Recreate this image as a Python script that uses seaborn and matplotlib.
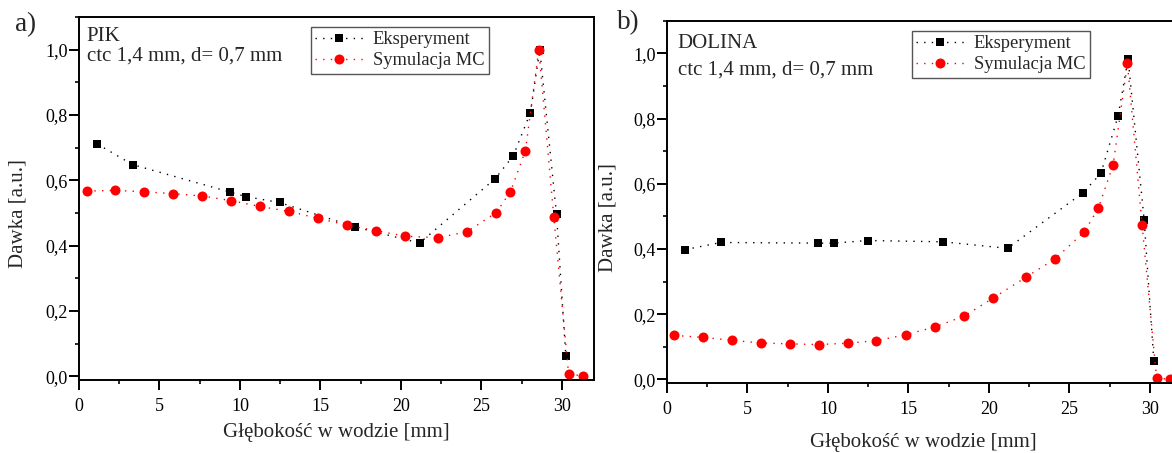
import matplotlib
matplotlib.use("Agg")
import matplotlib.pyplot as plt
from matplotlib.ticker import FuncFormatter, MultipleLocator
import pandas as pd
import seaborn as sns

# --- PIK profile -----------------------------------------------------------
pik_exp_x = [1.14, 3.33, 9.38, 10.37, 12.46, 17.16, 21.16, 25.86, 26.98, 28.05, 28.63, 29.67, 30.25]
pik_exp_y = [0.711, 0.648, 0.564, 0.550, 0.532, 0.457, 0.408, 0.605, 0.675, 0.807, 1.000, 0.496, 0.062]
pik_mc_x = [0.48, 2.26, 4.04, 5.86, 7.64, 9.42, 11.22, 13.02, 14.82, 16.63, 18.43, 20.25,
            22.32, 24.12, 25.92, 26.81, 27.74, 28.57, 29.50, 30.42, 31.32]
pik_mc_y = [0.567, 0.569, 0.565, 0.559, 0.552, 0.538, 0.520, 0.505, 0.484, 0.463, 0.446, 0.429,
            0.424, 0.443, 0.501, 0.565, 0.691, 1.000, 0.489, 0.008, 0.000]

# --- DOLINA profile --------------------------------------------------------
dol_exp_x = [1.12, 3.35, 9.36, 10.37, 12.46, 17.16, 21.16, 25.86, 26.96, 28.03, 28.65, 29.65, 30.25]
dol_exp_y = [0.398, 0.420, 0.418, 0.418, 0.426, 0.422, 0.402, 0.573, 0.632, 0.808, 0.983, 0.488, 0.056]
dol_mc_x = [0.46, 2.24, 4.04, 5.82, 7.62, 9.42, 11.22, 13.00, 14.84, 16.65, 18.45, 20.25,
            22.32, 24.12, 25.94, 26.81, 27.72, 28.61, 29.52, 30.42, 31.24]
dol_mc_y = [0.135, 0.129, 0.120, 0.112, 0.109, 0.107, 0.111, 0.119, 0.137, 0.161, 0.194, 0.249,
            0.314, 0.370, 0.453, 0.526, 0.658, 0.969, 0.474, 0.005, 0.000]

series_labels = ["Eksperyment", "Symulacja MC"]
panel_titles = ["PIK", "DOLINA"]
panel_letters = ["a)", "b)"]
subtitle = "ctc 1,4 mm, d= 0,7 mm"
x_label = "Głębokość w wodzie [mm]"
y_label = "Dawka [a.u.]"

sns.set_theme(style="ticks")
plt.rcParams["font.family"] = ["Liberation Serif", "DejaVu Serif"]
plt.rcParams["axes.linewidth"] = 1.4

W, H = 1172, 453
fig = plt.figure(figsize=(W / 100, H / 100), dpi=100)


def frac_box(left, top, right, bottom):
    return [left / W, 1 - bottom / H, (right - left) / W, (bottom - top) / H]


ax_a = fig.add_axes(frac_box(79, 17, 594, 379.5))
ax_b = fig.add_axes(frac_box(667, 20.7, 1182, 382.7))

comma = FuncFormatter(lambda v, p: f"{v:.1f}".replace(".", ","))

panels = [
    (ax_a, pik_exp_x, pik_exp_y, pik_mc_x, pik_mc_y),
    (ax_b, dol_exp_x, dol_exp_y, dol_mc_x, dol_mc_y),
]

for ax, ex, ey, mx, my in panels:
    exp_df = pd.DataFrame({"x": ex, "y": ey})
    mc_df = pd.DataFrame({"x": mx, "y": my})
    sns.lineplot(data=exp_df, x="x", y="y", ax=ax, estimator=None, sort=False,
                 color="black", linewidth=1.0, linestyle=(0, (1, 4.5)),
                 marker="s", markersize=6, markeredgewidth=0,
                 markerfacecolor="black", label=series_labels[0])
    sns.lineplot(data=mc_df, x="x", y="y", ax=ax, estimator=None, sort=False,
                 color="#ff0000", linewidth=1.0, linestyle=(0, (1, 4.5)),
                 marker="o", markersize=7.2, markeredgewidth=0,
                 markerfacecolor="#ff0000", label=series_labels[1])
    ax.set_xlim(0, 32)
    ax.set_ylim(-0.01, 1.1)
    ax.xaxis.set_major_locator(MultipleLocator(5))
    ax.xaxis.set_minor_locator(MultipleLocator(2.5))
    ax.yaxis.set_major_locator(MultipleLocator(0.2))
    ax.yaxis.set_minor_locator(MultipleLocator(0.1))
    ax.yaxis.set_major_formatter(comma)
    ax.tick_params(which="major", direction="out", length=7, width=1.4,
                   labelsize=13, colors="black")
    ax.tick_params(which="minor", direction="out", length=3.2, width=1.4)
    ax.tick_params(axis="x", which="major", pad=6)
    ax.tick_params(axis="y", which="major", pad=1.2)
    ax.set_xlabel(x_label, fontsize=15, va="center")
    ax.set_ylabel(y_label, fontsize=15, va="center")
    for s in ax.spines.values():
        s.set_visible(True)
        s.set_color("black")
        s.set_linewidth(1.4)

ax_a.xaxis.set_label_coords(0.499, -0.145)
ax_a.yaxis.set_label_coords(-0.1194, 0.458)
ax_b.xaxis.set_label_coords(0.498, -0.164)
ax_b.yaxis.set_label_coords(-0.114, 0.456)

legend_kw = dict(loc="upper left", fontsize=13.3, frameon=True, fancybox=False,
                 edgecolor="#555555", framealpha=1, borderpad=0.25,
                 handlelength=2.6, handletextpad=0.5, labelspacing=0.2,
                 borderaxespad=0, numpoints=1)
leg_a = ax_a.legend(bbox_to_anchor=(0.45, 0.973), **legend_kw)
leg_b = ax_b.legend(bbox_to_anchor=(0.475, 0.972), **legend_kw)
for leg in (leg_a, leg_b):
    leg.get_frame().set_linewidth(1.0)

# panel annotations
ax_a.text(0.015, 0.934, panel_titles[0], transform=ax_a.transAxes, fontsize=15, va="baseline")
ax_a.text(0.015, 0.879, subtitle, transform=ax_a.transAxes, fontsize=15, va="baseline")
ax_b.text(0.021, 0.924, panel_titles[1], transform=ax_b.transAxes, fontsize=15, va="baseline")
ax_b.text(0.021, 0.850, subtitle, transform=ax_b.transAxes, fontsize=15, va="baseline")

fig.text(15 / W, 1 - 30.7 / H, panel_letters[0], fontsize=19.5, va="baseline", ha="left")
fig.text(616.7 / W, 1 - 29.5 / H, panel_letters[1], fontsize=19.5, va="baseline", ha="left")

fig.savefig("out.png", dpi=100)
